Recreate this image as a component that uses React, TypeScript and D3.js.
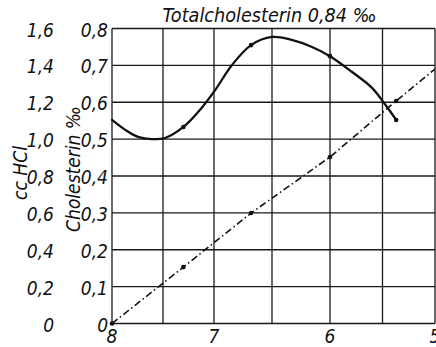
import React from "react";
import * as d3 from "d3";

// pH axis (runs from 8 down to 5)
const phTicks = [8, 7, 6, 5];
const phGrid = [8, 7.5, 7, 6.5, 6, 5.5, 5];

// Left axes: cholesterin (‰) inner, cc HCl outer
const cholTicks = [0, 0.1, 0.2, 0.3, 0.4, 0.5, 0.6, 0.7, 0.8];
const hclTicks = [0, 0.2, 0.4, 0.6, 0.8, 1.0, 1.2, 1.4, 1.6];

// Measured cholesterin points
const samplePh = [8, 7.3, 6.68, 6.0, 5.37];
const cholValues = [0.552, 0.533, 0.755, 0.725, 0.552];

// Hand-drawn cholesterin curve
const cholTracePh = [8.0, 7.87, 7.745, 7.61, 7.48, 7.3, 7.12, 6.99, 6.845, 6.68, 6.5, 6.33, 6.155, 6.0, 5.79, 5.6, 5.457, 5.37];
const cholTraceValues = [0.552, 0.525, 0.506, 0.5, 0.503, 0.533, 0.585, 0.633, 0.701, 0.755, 0.777, 0.769, 0.75, 0.725, 0.682, 0.639, 0.587, 0.552];

// cc HCl consumption
const hclPh = [8, 7.3, 6.68, 6.0, 5.37, 5.0];
const hclValues = [0, 0.306, 0.599, 0.903, 1.207, 1.38];

const title = "Totalcholesterin 0,84 ‰";

const W = 436;
const H = 347;
const FONT = "'DejaVu Sans', 'Liberation Sans', sans-serif";

const fmt = (v: number) => (v === 0 ? "0" : d3.format(".1f")(v).replace(".", ","));

export default function App() {
  const x = d3.scaleLinear().domain([8, 7, 6, 5]).range([112, 214, 330, 435]);
  const yChol = d3.scaleLinear().domain([0, 0.8]).range([323.5, 28.5]);
  const yHcl = d3.scaleLinear().domain([0, 1.6]).range([323.5, 28.5]);

  const cholLine = d3
    .line<number>()
    .x((_, i) => x(cholTracePh[i]))
    .y((d) => yChol(d))
    .curve(d3.curveCatmullRom.alpha(0.5));

  const hclLine = d3
    .line<number>()
    .x((_, i) => x(hclPh[i]))
    .y((d) => yHcl(d));

  const [x0, x1] = [x(8), x(5)];
  const [yTop, yBot] = [yChol(0.8), yChol(0)];

  return (
    <svg
      width={W}
      height={H}
      style={{ position: "fixed", left: 0, top: 0, background: "#fff", fontStretch: "condensed" }}
      fontFamily={FONT}
      fontStyle="italic"
    >
      <rect width={W} height={H} fill="#fff" />

      {/* grid */}
      <g stroke="#1a1a1a" strokeWidth={1.3}>
        {phGrid.map((p) => (
          <line key={"v" + p} x1={x(p)} x2={x(p)} y1={yTop} y2={yBot} />
        ))}
        {cholTicks.map((t) => (
          <line key={"h" + t} x1={x0} x2={x1} y1={yChol(t)} y2={yChol(t)} />
        ))}
      </g>

      {/* cc HCl dash-dot line */}
      <path
        d={hclLine(hclValues) || ""}
        fill="none"
        stroke="#111"
        strokeWidth={1.6}
        strokeDasharray="7 3 1.5 3"
      />
      {hclValues.slice(0, 5).map((v, i) => (
        <circle key={"hm" + i} cx={x(hclPh[i])} cy={yHcl(v)} r={2.3} fill="#111" />
      ))}

      {/* cholesterin curve */}
      <path
        d={cholLine(cholTraceValues) || ""}
        fill="none"
        stroke="#111"
        strokeWidth={2.3}
        strokeLinecap="round"
      />
      {cholValues.slice(1).map((v, i) => (
        <circle key={"cm" + i} cx={x(samplePh[i + 1])} cy={yChol(v)} r={2.3} fill="#111" />
      ))}

      {/* title */}
      <text x={269.5} y={22} textAnchor="middle" fontSize={19} fill="#111" textLength={214} lengthAdjust="spacingAndGlyphs">
        {title}
      </text>

      {/* inner y-axis labels */}
      {cholTicks.map((t) => (
        <text key={"ct" + t} x={108} y={yChol(t) + 8} textAnchor="end" fontSize={19} fill="#111">
          {fmt(t)}
        </text>
      ))}
      {/* outer y-axis labels */}
      {hclTicks.map((t) => (
        <text key={"ht" + t} x={54} y={yHcl(t) + 8} textAnchor="end" fontSize={19} fill="#111">
          {fmt(t)}
        </text>
      ))}

      {/* x-axis labels */}
      {phTicks.map((p) => (
        <text key={"xt" + p} x={x(p)} y={343} textAnchor="middle" fontSize={19} fill="#111">
          {p}
        </text>
      ))}

      {/* axis titles */}
      <text transform="translate(80,169) rotate(-90)" textAnchor="middle" fontSize={19} fill="#111">
        Cholesterin ‰
      </text>
      <text transform="translate(27,173) rotate(-90)" textAnchor="middle" fontSize={19} fill="#111">
        cc HCl
      </text>
    </svg>
  );
}
